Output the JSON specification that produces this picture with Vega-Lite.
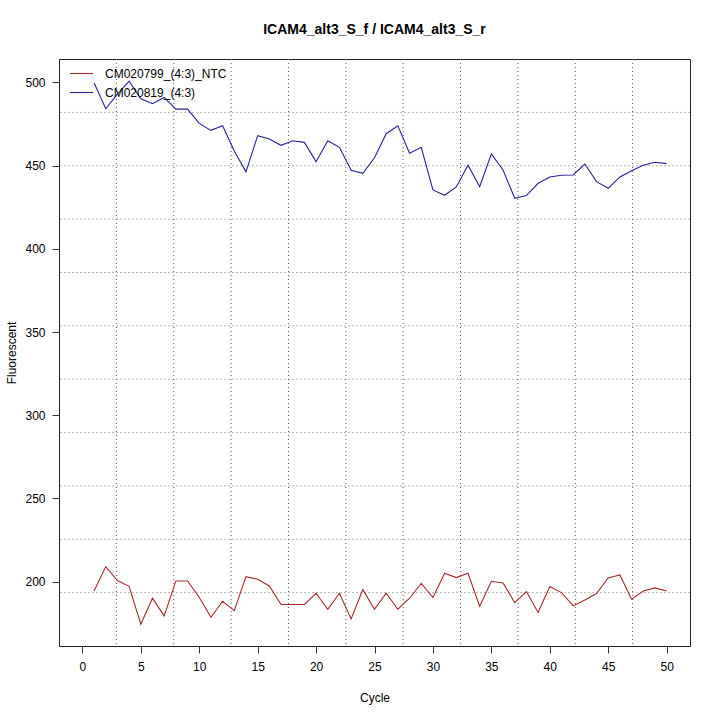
{
  "$schema": "https://vega.github.io/schema/vega-lite/v6.json",
  "autosize": "none",
  "width": 631,
  "height": 587,
  "padding": {"left": 59, "top": 59, "right": 30, "bottom": 74},
  "background": "white",
  "title": {
    "text": "ICAM4_alt3_S_f / ICAM4_alt3_S_r",
    "font": "Liberation Sans",
    "fontSize": 14,
    "fontWeight": "bold",
    "color": "black",
    "offset": 22
  },
  "config": {
    "view": {"stroke": "#222", "strokeWidth": 1},
    "axis": {
      "labelFont": "Liberation Sans",
      "titleFont": "Liberation Sans",
      "labelFontSize": 12,
      "titleFontSize": 12,
      "titleFontWeight": "normal",
      "labelColor": "black",
      "titleColor": "black",
      "grid": false,
      "domain": false,
      "tickColor": "#333",
      "tickSize": 7
    }
  },
  "datasets": {
    "series": [
      {"cycle": 1, "sample": "CM020819_(4:3)", "value": 499.8},
      {"cycle": 2, "sample": "CM020819_(4:3)", "value": 484.2},
      {"cycle": 3, "sample": "CM020819_(4:3)", "value": 493},
      {"cycle": 4, "sample": "CM020819_(4:3)", "value": 500.8},
      {"cycle": 5, "sample": "CM020819_(4:3)", "value": 490.2},
      {"cycle": 6, "sample": "CM020819_(4:3)", "value": 487.2},
      {"cycle": 7, "sample": "CM020819_(4:3)", "value": 491},
      {"cycle": 8, "sample": "CM020819_(4:3)", "value": 484},
      {"cycle": 9, "sample": "CM020819_(4:3)", "value": 484},
      {"cycle": 10, "sample": "CM020819_(4:3)", "value": 475.4},
      {"cycle": 11, "sample": "CM020819_(4:3)", "value": 471.2},
      {"cycle": 12, "sample": "CM020819_(4:3)", "value": 474},
      {"cycle": 13, "sample": "CM020819_(4:3)", "value": 458.8},
      {"cycle": 14, "sample": "CM020819_(4:3)", "value": 446.3},
      {"cycle": 15, "sample": "CM020819_(4:3)", "value": 468},
      {"cycle": 16, "sample": "CM020819_(4:3)", "value": 466},
      {"cycle": 17, "sample": "CM020819_(4:3)", "value": 462.2},
      {"cycle": 18, "sample": "CM020819_(4:3)", "value": 465},
      {"cycle": 19, "sample": "CM020819_(4:3)", "value": 464},
      {"cycle": 20, "sample": "CM020819_(4:3)", "value": 452.4},
      {"cycle": 21, "sample": "CM020819_(4:3)", "value": 465},
      {"cycle": 22, "sample": "CM020819_(4:3)", "value": 461},
      {"cycle": 23, "sample": "CM020819_(4:3)", "value": 447.2},
      {"cycle": 24, "sample": "CM020819_(4:3)", "value": 445.4},
      {"cycle": 25, "sample": "CM020819_(4:3)", "value": 454.7},
      {"cycle": 26, "sample": "CM020819_(4:3)", "value": 469.2},
      {"cycle": 27, "sample": "CM020819_(4:3)", "value": 474},
      {"cycle": 28, "sample": "CM020819_(4:3)", "value": 457.4},
      {"cycle": 29, "sample": "CM020819_(4:3)", "value": 461},
      {"cycle": 30, "sample": "CM020819_(4:3)", "value": 435.4},
      {"cycle": 31, "sample": "CM020819_(4:3)", "value": 432.2},
      {"cycle": 32, "sample": "CM020819_(4:3)", "value": 437.2},
      {"cycle": 33, "sample": "CM020819_(4:3)", "value": 450.3},
      {"cycle": 34, "sample": "CM020819_(4:3)", "value": 437.4},
      {"cycle": 35, "sample": "CM020819_(4:3)", "value": 457},
      {"cycle": 36, "sample": "CM020819_(4:3)", "value": 447.4},
      {"cycle": 37, "sample": "CM020819_(4:3)", "value": 430.4},
      {"cycle": 38, "sample": "CM020819_(4:3)", "value": 432},
      {"cycle": 39, "sample": "CM020819_(4:3)", "value": 439.4},
      {"cycle": 40, "sample": "CM020819_(4:3)", "value": 443.2},
      {"cycle": 41, "sample": "CM020819_(4:3)", "value": 444.2},
      {"cycle": 42, "sample": "CM020819_(4:3)", "value": 444.4},
      {"cycle": 43, "sample": "CM020819_(4:3)", "value": 451},
      {"cycle": 44, "sample": "CM020819_(4:3)", "value": 440.4},
      {"cycle": 45, "sample": "CM020819_(4:3)", "value": 436.4},
      {"cycle": 46, "sample": "CM020819_(4:3)", "value": 443.2},
      {"cycle": 47, "sample": "CM020819_(4:3)", "value": 447},
      {"cycle": 48, "sample": "CM020819_(4:3)", "value": 450.2},
      {"cycle": 49, "sample": "CM020819_(4:3)", "value": 452},
      {"cycle": 50, "sample": "CM020819_(4:3)", "value": 451.2},
      {"cycle": 1, "sample": "CM020799_(4:3)_NTC", "value": 194.4},
      {"cycle": 2, "sample": "CM020799_(4:3)_NTC", "value": 209},
      {"cycle": 3, "sample": "CM020799_(4:3)_NTC", "value": 200.6},
      {"cycle": 4, "sample": "CM020799_(4:3)_NTC", "value": 197.2},
      {"cycle": 5, "sample": "CM020799_(4:3)_NTC", "value": 174.4},
      {"cycle": 6, "sample": "CM020799_(4:3)_NTC", "value": 190},
      {"cycle": 7, "sample": "CM020799_(4:3)_NTC", "value": 179.4},
      {"cycle": 8, "sample": "CM020799_(4:3)_NTC", "value": 200.4},
      {"cycle": 9, "sample": "CM020799_(4:3)_NTC", "value": 200.4},
      {"cycle": 10, "sample": "CM020799_(4:3)_NTC", "value": 190.6},
      {"cycle": 11, "sample": "CM020799_(4:3)_NTC", "value": 178.6},
      {"cycle": 12, "sample": "CM020799_(4:3)_NTC", "value": 188.2},
      {"cycle": 13, "sample": "CM020799_(4:3)_NTC", "value": 182.6},
      {"cycle": 14, "sample": "CM020799_(4:3)_NTC", "value": 203},
      {"cycle": 15, "sample": "CM020799_(4:3)_NTC", "value": 201.4},
      {"cycle": 16, "sample": "CM020799_(4:3)_NTC", "value": 197.4},
      {"cycle": 17, "sample": "CM020799_(4:3)_NTC", "value": 186.2},
      {"cycle": 18, "sample": "CM020799_(4:3)_NTC", "value": 186.2},
      {"cycle": 19, "sample": "CM020799_(4:3)_NTC", "value": 186.3},
      {"cycle": 20, "sample": "CM020799_(4:3)_NTC", "value": 193},
      {"cycle": 21, "sample": "CM020799_(4:3)_NTC", "value": 183.4},
      {"cycle": 22, "sample": "CM020799_(4:3)_NTC", "value": 193},
      {"cycle": 23, "sample": "CM020799_(4:3)_NTC", "value": 177.6},
      {"cycle": 24, "sample": "CM020799_(4:3)_NTC", "value": 195.2},
      {"cycle": 25, "sample": "CM020799_(4:3)_NTC", "value": 183.4},
      {"cycle": 26, "sample": "CM020799_(4:3)_NTC", "value": 193},
      {"cycle": 27, "sample": "CM020799_(4:3)_NTC", "value": 183.4},
      {"cycle": 28, "sample": "CM020799_(4:3)_NTC", "value": 190},
      {"cycle": 29, "sample": "CM020799_(4:3)_NTC", "value": 199},
      {"cycle": 30, "sample": "CM020799_(4:3)_NTC", "value": 190.4},
      {"cycle": 31, "sample": "CM020799_(4:3)_NTC", "value": 205},
      {"cycle": 32, "sample": "CM020799_(4:3)_NTC", "value": 202.4},
      {"cycle": 33, "sample": "CM020799_(4:3)_NTC", "value": 205},
      {"cycle": 34, "sample": "CM020799_(4:3)_NTC", "value": 185.2},
      {"cycle": 35, "sample": "CM020799_(4:3)_NTC", "value": 200.2},
      {"cycle": 36, "sample": "CM020799_(4:3)_NTC", "value": 199.2},
      {"cycle": 37, "sample": "CM020799_(4:3)_NTC", "value": 187.4},
      {"cycle": 38, "sample": "CM020799_(4:3)_NTC", "value": 194},
      {"cycle": 39, "sample": "CM020799_(4:3)_NTC", "value": 181.4},
      {"cycle": 40, "sample": "CM020799_(4:3)_NTC", "value": 197},
      {"cycle": 41, "sample": "CM020799_(4:3)_NTC", "value": 193.4},
      {"cycle": 42, "sample": "CM020799_(4:3)_NTC", "value": 185.4},
      {"cycle": 43, "sample": "CM020799_(4:3)_NTC", "value": 189},
      {"cycle": 44, "sample": "CM020799_(4:3)_NTC", "value": 192.8},
      {"cycle": 45, "sample": "CM020799_(4:3)_NTC", "value": 202.2},
      {"cycle": 46, "sample": "CM020799_(4:3)_NTC", "value": 204},
      {"cycle": 47, "sample": "CM020799_(4:3)_NTC", "value": 189.4},
      {"cycle": 48, "sample": "CM020799_(4:3)_NTC", "value": 194.4},
      {"cycle": 49, "sample": "CM020799_(4:3)_NTC", "value": 196.2},
      {"cycle": 50, "sample": "CM020799_(4:3)_NTC", "value": 194.4}
    ],
    "vgrid": [
      {"x": 2.909}, {"x": 7.818}, {"x": 12.727}, {"x": 17.636}, {"x": 22.545},
      {"x": 27.455}, {"x": 32.364}, {"x": 37.273}, {"x": 42.182}, {"x": 47.091}
    ],
    "hgrid": [
      {"y": 193.37}, {"y": 225.44}, {"y": 257.51}, {"y": 289.58}, {"y": 321.65},
      {"y": 353.72}, {"y": 385.79}, {"y": 417.86}, {"y": 449.93}, {"y": 482.0}
    ]
  },
  "layer": [
    {
      "data": {"name": "hgrid"},
      "mark": {"type": "rule", "color": "#b4b4b4", "strokeDash": [2, 2], "strokeWidth": 1},
      "encoding": {
        "y": {"field": "y", "type": "quantitative", "scale": {"domain": [161.3, 514.1], "nice": false, "zero": false}}
      }
    },
    {
      "data": {"name": "vgrid"},
      "mark": {"type": "rule", "color": "#555", "strokeDash": [1, 3], "strokeWidth": 1},
      "encoding": {
        "x": {"field": "x", "type": "quantitative", "scale": {"domain": [-2, 52], "nice": false, "zero": false}}
      }
    },
    {
      "data": {"name": "series"},
      "mark": {"type": "line", "strokeWidth": 1.1},
      "encoding": {
        "x": {
          "field": "cycle",
          "type": "quantitative",
          "title": "Cycle",
          "scale": {"domain": [-2, 52], "nice": false, "zero": false},
          "axis": {"values": [0, 5, 10, 15, 20, 25, 30, 35, 40, 45, 50], "labelPadding": 8, "titlePadding": 20}
        },
        "y": {
          "field": "value",
          "type": "quantitative",
          "title": "Fluorescent",
          "scale": {"domain": [161.3, 514.1], "nice": false, "zero": false},
          "axis": {"values": [200, 250, 300, 350, 400, 450, 500], "labelPadding": 7, "titlePadding": 6}
        },
        "color": {
          "field": "sample",
          "type": "nominal",
          "scale": {
            "domain": ["CM020799_(4:3)_NTC", "CM020819_(4:3)"],
            "range": ["#a52a2a", "#24249c"]
          },
          "legend": {
            "title": null,
            "orient": "none",
            "legendX": 10,
            "legendY": 2,
            "symbolType": "stroke",
            "symbolSize": 530,
            "symbolStrokeWidth": 1.1,
            "labelFont": "Liberation Sans",
            "labelFontSize": 12,
            "labelColor": "black",
            "labelOffset": 11,
            "rowPadding": -12
          }
        }
      }
    }
  ]
}
